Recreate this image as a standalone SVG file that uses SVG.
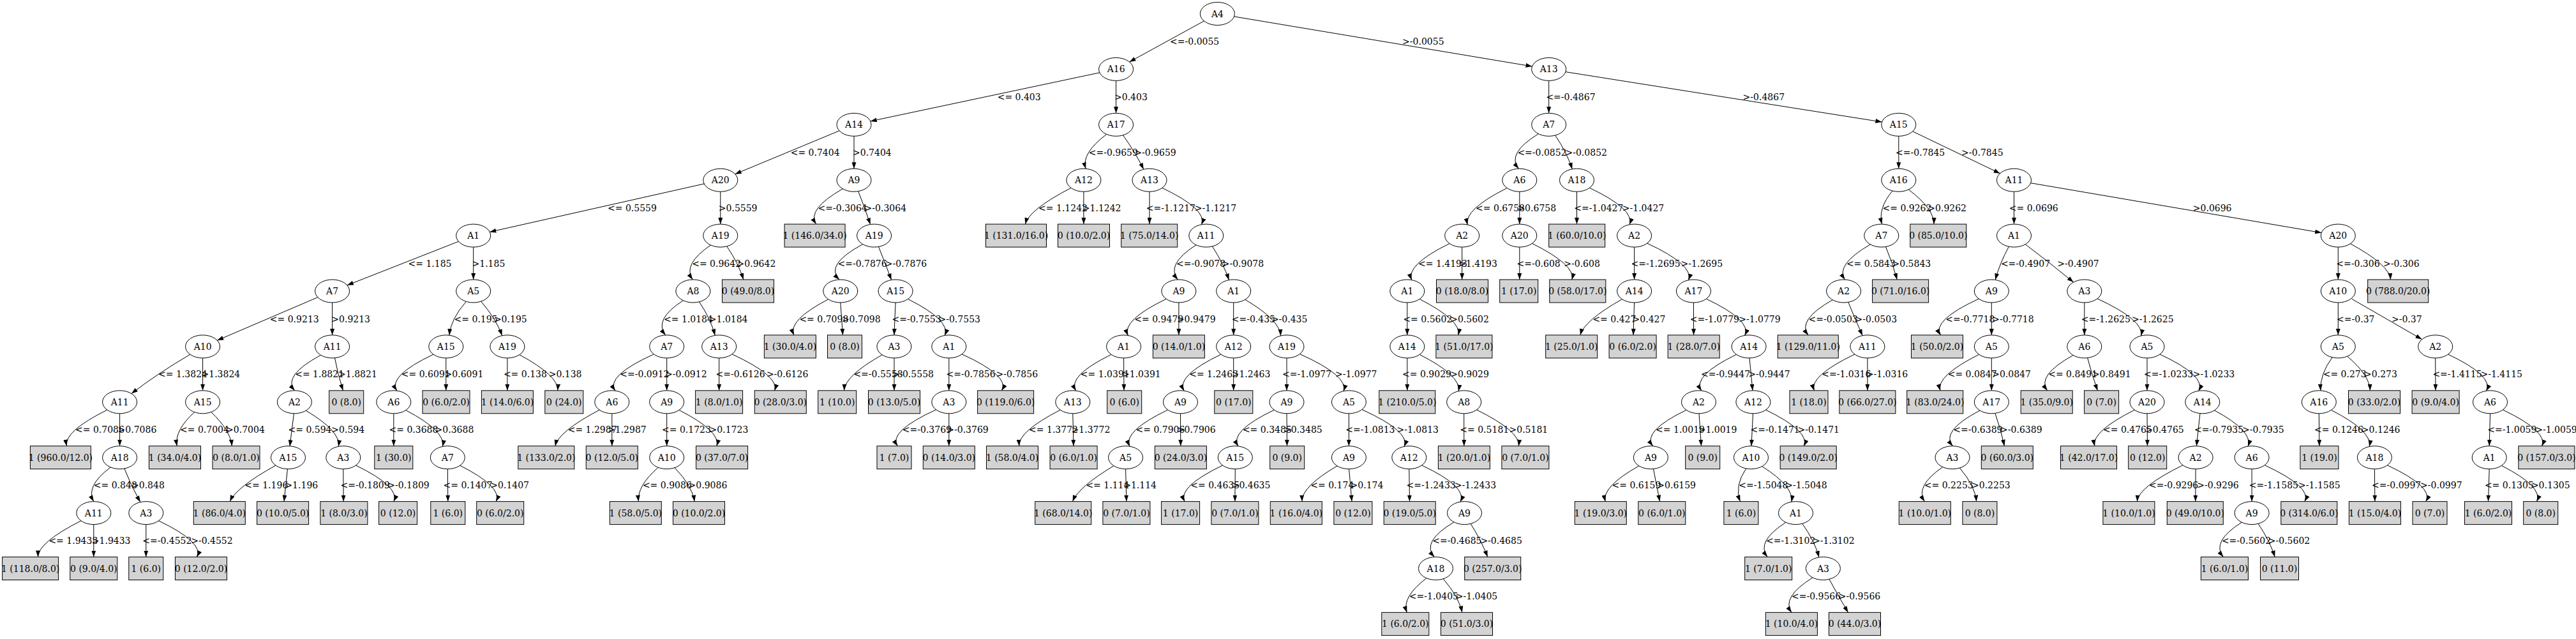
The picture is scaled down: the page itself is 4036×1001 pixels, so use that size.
<svg xmlns="http://www.w3.org/2000/svg" width="4036" height="1001" viewBox="0 0 4036 1001">
<style>
text{font-family:"DejaVu Serif","Liberation Serif",serif;font-size:14px;fill:#000}
.n ellipse{fill:#fff;stroke:#000;stroke-width:1}
.l rect{fill:#d3d3d3;stroke:#000;stroke-width:1}
.n text,.l text{text-anchor:middle}
#connectors path{fill:none;stroke:#000;stroke-width:1;marker-end:url(#arr)}
#connectors text{text-anchor:start}
</style>
<defs>
<marker id="arr" viewBox="0 0 10 7" refX="10" refY="3.5" markerWidth="10" markerHeight="7" markerUnits="userSpaceOnUse" orient="auto"><path d="M0,0L10,3.5L0,7z" fill="#000" stroke="none"/></marker>
</defs>
<rect x="0" y="0" width="4036" height="1001" fill="#fff"/>
<g id="connectors">
<path d="M1886.5,32.9 L1769.5,97"/><text x="1833.1" y="70">&lt;=-0.0055</text>
<path d="M1933.6,25.9 L2400.5,104"/><text x="2197.1" y="70">&gt;-0.0055</text>
<path d="M1722.9,113.8 L1363.7,189.9"/><text x="1562.7" y="156.9">&lt;= 0.403</text>
<path d="M1748.6,126.4 L1748.6,177.3"/><text x="1746" y="156.9">&gt;0.403</text>
<path d="M1315.1,204.8 L1151.7,272.7"/><text x="1238.7" y="243.8">&lt;= 0.7404</text>
<path d="M1338,213.3 L1338,264.2"/><text x="1336" y="243.8">&gt;0.7404</text>
<path d="M1103.2,287.9 L767.3,363.4"/><text x="952" y="330.7">&lt;= 0.5559</text>
<path d="M1128.8,300.2 L1128.8,351.1"/><text x="1125.8" y="330.7">&gt;0.5559</text>
<path d="M1320.3,295.8 Q1263.7,327.95 1278.7,351.1"/><text x="1281.6" y="330.7">&lt;=-0.3064</text>
<path d="M1344.7,299.6 Q1355.05,325.8 1363.6,351.6"/><text x="1354.6" y="330.7">&gt;-0.3064</text>
<path d="M718.4,378.3 L543.9,446.8"/><text x="639.5" y="417.6">&lt;= 1.185</text>
<path d="M741.7,387.1 L741.7,438"/><text x="739.5" y="417.6">&gt;1.185</text>
<path d="M1113.6,383.9 Q1069,414.25 1085.2,438"/><text x="1084.2" y="417.6">&lt;= 0.9642</text>
<path d="M1138.7,385.8 Q1157.45,413.3 1164.8,438"/><text x="1154.6" y="417.6">&gt;0.9642</text>
<path d="M497.9,465.7 L340.3,533.2"/><text x="422.8" y="504.5">&lt;= 0.9213</text>
<path d="M520.6,474 L520.6,524.9"/><text x="519.3" y="504.5">&gt;0.9213</text>
<path d="M730.4,472.3 Q706,500.1 704,525.3"/><text x="711.6" y="504.5">&lt;= 0.195</text>
<path d="M753.6,472.1 Q777.7,499.95 786.6,525.8"/><text x="773.9" y="504.5">&gt;0.195</text>
<path d="M1070.4,470.7 Q1023.4,501.05 1042.8,525"/><text x="1040" y="504.5">&lt;= 1.0184</text>
<path d="M1095.5,472.8 Q1113.7,499.8 1120.3,525.4"/><text x="1110.8" y="504.5">&gt;1.0184</text>
<path d="M1351.8,382.6 Q1291.6,414.85 1315,438.1"/><text x="1312.5" y="417.6">&lt;=-0.7876</text>
<path d="M1376.5,386.5 Q1387.05,412.7 1396.6,438.5"/><text x="1386.8" y="417.6">&gt;-0.7876</text>
<path d="M1678,294.4 Q1611.95,328.55 1606.5,351.1"/><text x="1627.1" y="330.7">&lt;= 1.1242</text>
<path d="M1697.9,300.2 L1697.9,351.1"/><text x="1695.8" y="330.7">&gt;1.1242</text>
<path d="M1733.8,210.3 Q1693.95,240.2 1701.1,264.3"/><text x="1705.7" y="243.8">&lt;=-0.9659</text>
<path d="M1759.5,211.8 Q1778.95,238.95 1791.8,265.3"/><text x="1777.3" y="243.8">&gt;-0.9659</text>
<path d="M1801,300.2 L1801,351.1"/><text x="1795.8" y="330.7">&lt;=-1.1217</text>
<path d="M1820.9,294.4 Q1891.85,328.2 1882.6,351.8"/><text x="1871.8" y="330.7">&gt;-1.1217</text>
<path d="M1874.1,383.7 Q1826.3,414.25 1845.3,438"/><text x="1843" y="417.6">&lt;=-0.9078</text>
<path d="M1899.4,385.9 Q1916.95,412.8 1925.5,438.7"/><text x="1914.7" y="417.6">&gt;-0.9078</text>
<path d="M1403.1,474 L1400.9,524.9"/><text x="1397.5" y="504.5">&lt;=-0.7553</text>
<path d="M1422.5,468.5 Q1489.6,501.95 1480.3,525.4"/><text x="1470.5" y="504.5">&gt;-0.7553</text>
<path d="M1827.2,468.3 Q1757.35,502 1767.3,525.5"/><text x="1777.3" y="504.5">&lt;= 0.9479</text>
<path d="M1846.9,474 L1846.9,524.9"/><text x="1843.9" y="504.5">&gt;0.9479</text>
<path d="M1932.7,474 L1932.7,524.9"/><text x="1929.7" y="504.5">&lt;=-0.435</text>
<path d="M1950.8,469.3 Q2005.1,501.25 2006.6,526"/><text x="1991.9" y="504.5">&gt;-0.435</text>
<path d="M297.9,555.2 Q244.25,586.8 206,616.6"/><text x="248.1" y="591.4">&lt;= 1.3824</text>
<path d="M317.6,560.9 L317.6,611.8"/><text x="315.5" y="591.4">&gt;1.3824</text>
<path d="M502.6,556.3 Q442.25,588.65 461.7,611.8"/><text x="462.2" y="591.4">&lt;= 1.8821</text>
<path d="M524.5,560.7 Q529.2,586.45 537.5,611.8"/><text x="530.1" y="591.4">&gt;1.8821</text>
<path d="M679,555.2 Q607.25,589.05 621.7,612.1"/><text x="628.8" y="591.4">&lt;= 0.6091</text>
<path d="M698.8,560.9 L698.8,611.8"/><text x="696.6" y="591.4">&gt;0.6091</text>
<path d="M794.9,560.9 L794.9,611.8"/><text x="788.9" y="591.4">&lt;= 0.138</text>
<path d="M813.9,555.7 Q875.55,588.95 873.8,611.8"/><text x="859.7" y="591.4">&gt;0.138</text>
<path d="M1024.5,554.8 Q948.4,589.25 963.9,612.1"/><text x="971.3" y="591.4">&lt;=-0.0912</text>
<path d="M1044.7,560.9 L1044.7,611.8"/><text x="1042.1" y="591.4">&gt;-0.0912</text>
<path d="M1126.7,560.9 L1126.7,611.8"/><text x="1121.5" y="591.4">&lt;=-0.6126</text>
<path d="M1147,554.8 Q1221.45,589.4 1213.7,611.8"/><text x="1200.9" y="591.4">&gt;-0.6126</text>
<path d="M1297.8,468.8 Q1233.95,502.05 1243.9,524.9"/><text x="1252.4" y="504.5">&lt;= 0.7098</text>
<path d="M1316.8,474 L1320.5,524.9"/><text x="1318.9" y="504.5">&gt;0.7098</text>
<path d="M1382.2,555.8 Q1323.6,588.9 1322.6,611.8"/><text x="1337.4" y="591.4">&lt;=-0.5558</text>
<path d="M1401,560.9 L1401,611.8"/><text x="1397.5" y="591.4">&gt;-0.5558</text>
<path d="M1486.8,560.9 L1486.8,611.8"/><text x="1482.5" y="591.4">&lt;=-0.7856</text>
<path d="M1507,554.8 Q1583,589.4 1569.4,611.8"/><text x="1560.6" y="591.4">&gt;-0.7856</text>
<path d="M1741.1,555.4 Q1672.2,588.95 1685.7,612.1"/><text x="1692.8" y="591.4">&lt;= 1.0391</text>
<path d="M1760.6,560.9 L1761,611.8"/><text x="1758" y="591.4">&gt;1.0391</text>
<path d="M1913,555.2 Q1842.35,589 1855.1,612.2"/><text x="1863.2" y="591.4">&lt;= 1.2463</text>
<path d="M1932.7,560.9 L1932.7,611.8"/><text x="1929.7" y="591.4">&gt;1.2463</text>
<path d="M2016,560.9 L2016,611.8"/><text x="2009" y="591.4">&lt;=-1.0977</text>
<path d="M2036.5,554.6 Q2113.25,589.05 2105,612.7"/><text x="2092" y="591.4">&gt;-1.0977</text>
<path d="M2426.7,126.4 L2426.7,177.3"/><text x="2422.4" y="156.9">&lt;=-0.4867</text>
<path d="M2453,112.6 L2948.5,191.1"/><text x="2730.6" y="156.9">&gt;-0.4867</text>
<path d="M2410.4,209.6 Q2359.9,240.6 2379.4,264.2"/><text x="2377.4" y="243.8">&lt;=-0.0852</text>
<path d="M2436.6,212 Q2455.05,239.05 2463.3,264.9"/><text x="2452.5" y="243.8">&gt;-0.0852</text>
<path d="M2361.2,294.6 Q2294.05,328 2299.1,352"/><text x="2312.1" y="330.7">&lt;= 0.6758</text>
<path d="M2380.8,300.2 L2380.8,351.1"/><text x="2377.4" y="330.7">&gt;0.6758</text>
<path d="M2470.5,300.2 L2470.5,351.1"/><text x="2466.2" y="330.7">&lt;=-1.0427</text>
<path d="M2490.4,294.3 Q2561.85,328.25 2553.1,351.8"/><text x="2541.8" y="330.7">&gt;-1.0427</text>
<path d="M2271.1,381.5 Q2202.6,415.05 2211.7,438.6"/><text x="2222" y="417.6">&lt;= 1.4193</text>
<path d="M2290.7,387.1 L2290.7,438"/><text x="2285.1" y="417.6">&gt;1.4193</text>
<path d="M2380.8,387.1 L2380.8,438"/><text x="2376.5" y="417.6">&lt;=-0.608</text>
<path d="M2400.5,381.4 Q2468.9,415.4 2462.9,438"/><text x="2450.3" y="417.6">&gt;-0.608</text>
<path d="M2560.6,387.1 L2560.6,438"/><text x="2555.5" y="417.6">&lt;=-1.2695</text>
<path d="M2580.7,381.1 Q2654.05,415.15 2645.6,438.8"/><text x="2633.6" y="417.6">&gt;-1.2695</text>
<path d="M2974.8,213.3 L2974.8,264.2"/><text x="2970.1" y="243.8">&lt;=-0.7845</text>
<path d="M2996.7,205.8 L3133.6,271.7"/><text x="3073.1" y="243.8">&gt;-0.7845</text>
<path d="M2965,299 Q2942.25,326.25 2948.5,351.1"/><text x="2949.5" y="330.7">&lt;= 0.9262</text>
<path d="M2990.2,296.9 Q3030.5,327.3 3030,351.1"/><text x="3020.3" y="330.7">&gt;0.9262</text>
<path d="M3155.5,300.2 L3155.5,351.1"/><text x="3147.8" y="330.7">&lt;= 0.0696</text>
<path d="M3181.7,286.7 L3637.1,364.6"/><text x="3435.8" y="330.7">&gt;0.0696</text>
<path d="M2930.4,382.9 Q2875.4,414.65 2890.4,438"/><text x="2892.9" y="417.6">&lt;= 0.5843</text>
<path d="M2954.5,386.5 Q2965.65,412.85 2972.2,438"/><text x="2964.5" y="417.6">&gt;0.5843</text>
<path d="M3147.4,386.2 Q3133,412.8 3126.2,438.4"/><text x="3134.9" y="417.6">&lt;=-0.4907</text>
<path d="M3173.2,382.7 Q3213.1,412.7 3248.6,442.1"/><text x="3223.3" y="417.6">&gt;-0.4907</text>
<path d="M3663.3,387.1 L3663.3,438"/><text x="3660.3" y="417.6">&lt;=-0.306</text>
<path d="M3682.5,381.8 Q3744,415.2 3745.5,438"/><text x="3734.1" y="417.6">&gt;-0.306</text>
<path d="M2204.8,474 L2204.8,524.9"/><text x="2198.4" y="504.5">&lt;= 0.5602</text>
<path d="M2224.2,468.5 Q2289.85,502.2 2284.9,524.9"/><text x="2272.2" y="504.5">&gt;0.5602</text>
<path d="M2541.5,468.7 Q2482.1,502.1 2475.9,524.9"/><text x="2495.4" y="504.5">&lt;= 0.427</text>
<path d="M2560.6,474 L2559,524.9"/><text x="2557.6" y="504.5">&gt;0.427</text>
<path d="M2653.4,474 L2653.6,524.9"/><text x="2647.8" y="504.5">&lt;=-1.0779</text>
<path d="M2673.3,468.2 Q2744.9,502.1 2733.7,525.4"/><text x="2724.2" y="504.5">&gt;-1.0779</text>
<path d="M2871.2,469.8 Q2815.05,501.55 2833.1,524.9"/><text x="2833.6" y="504.5">&lt;=-0.0503</text>
<path d="M2895.8,473.3 Q2906.2,499.4 2918.2,525.7"/><text x="2906.6" y="504.5">&gt;-0.0503</text>
<path d="M3100.3,468.1 Q3026,502.4 3040.5,524.9"/><text x="3048.2" y="504.5">&lt;=-0.7718</text>
<path d="M3120.3,474 L3120.3,524.9"/><text x="3121.2" y="504.5">&gt;-0.7718</text>
<path d="M3265.8,474 L3265.8,524.9"/><text x="3260.7" y="504.5">&lt;=-1.2625</text>
<path d="M3286.1,467.9 Q3359.8,501.95 3354.7,526"/><text x="3340.1" y="504.5">&gt;-1.2625</text>
<path d="M3663.3,474 L3663.3,524.9"/><text x="3661.1" y="504.5">&lt;=-0.37</text>
<path d="M3684.8,468.3 L3794.5,531.5"/><text x="3747" y="504.5">&gt;-0.37</text>
<path d="M2204.8,560.9 L2204.8,611.8"/><text x="2197.1" y="591.4">&lt;= 0.9029</text>
<path d="M2224.2,555.4 Q2289.7,588.65 2285.2,612.7"/><text x="2272.2" y="591.4">&gt;0.9029</text>
<path d="M2720.6,555.3 Q2650.8,589 2665.8,612.1"/><text x="2665" y="591.4">&lt;=-0.9447</text>
<path d="M2741,560.9 L2746,611.8"/><text x="2739.2" y="591.4">&gt;-0.9447</text>
<path d="M2905.9,555 Q2834.25,589.3 2842.4,611.8"/><text x="2854.2" y="591.4">&lt;=-1.0316</text>
<path d="M2925.9,560.9 L2925.9,611.8"/><text x="2923.8" y="591.4">&gt;-1.0316</text>
<path d="M3100.7,555.3 Q3033.05,589.15 3040,611.8"/><text x="3051.7" y="591.4">&lt;= 0.0847</text>
<path d="M3120.3,560.9 L3120.3,611.8"/><text x="3121.2" y="591.4">&gt;0.0847</text>
<path d="M3248.1,556.5 Q3190.5,588.55 3207.7,611.8"/><text x="3209.2" y="591.4">&lt;= 0.8491</text>
<path d="M3270.7,560.6 Q3277.2,586.5 3286.5,611.8"/><text x="3277.9" y="591.4">&gt;0.8491</text>
<path d="M3364,560.9 L3364,611.8"/><text x="3359" y="591.4">&lt;=-1.0233</text>
<path d="M3384,555 Q3457.2,589.05 3444.8,612.3"/><text x="3435.8" y="591.4">&gt;-1.0233</text>
<path d="M3654.1,559.8 Q3634.4,586.85 3635.9,611.9"/><text x="3639.7" y="591.4">&lt;= 0.273</text>
<path d="M3677.6,558.1 Q3712.7,587.75 3713.4,611.8"/><text x="3704.1" y="591.4">&gt;0.273</text>
<path d="M3815.7,560.9 L3816,611.8"/><text x="3811.4" y="591.4">&lt;=-1.4115</text>
<path d="M3835.6,555.1 Q3907.45,589 3895.5,612.3"/><text x="3886.5" y="591.4">&gt;-1.4115</text>
<path d="M167.9,642.1 Q99.8,676.1 104.5,698.7"/><text x="118" y="678.3">&lt;= 0.7086</text>
<path d="M187.6,647.8 L187.6,698.7"/><text x="184.6" y="678.3">&gt;0.7086</text>
<path d="M304.7,645.6 Q273,674.35 277.3,698.7"/><text x="282" y="678.3">&lt;= 0.7004</text>
<path d="M330.8,645.5 Q361.1,674.4 363.4,698.7"/><text x="354.1" y="678.3">&gt;0.7004</text>
<path d="M460.5,647.8 L454,699.2"/><text x="451.5" y="678.3">&lt;= 0.594</text>
<path d="M479.3,643.3 Q533.75,675.15 530.4,699.4"/><text x="519.3" y="678.3">&gt;0.594</text>
<path d="M616.8,647.8 L616.8,698.7"/><text x="609.5" y="678.3">&lt;= 0.3688</text>
<path d="M635.8,642.6 Q698.55,675.45 693.5,699.5"/><text x="681.6" y="678.3">&gt;0.3688</text>
<path d="M939.1,642.2 Q874.95,676.05 869.8,698.7"/><text x="889.7" y="678.3">&lt;= 1.2987</text>
<path d="M958.8,647.8 L958.8,698.7"/><text x="952" y="678.3">&gt;1.2987</text>
<path d="M1044.7,647.8 L1044.7,698.7"/><text x="1037" y="678.3">&lt;= 0.1723</text>
<path d="M1064,642.4 Q1129.7,675.95 1123,698.7"/><text x="1111.6" y="678.3">&gt;0.1723</text>
<path d="M1466.7,641.8 Q1391.1,676.25 1406.3,698.7"/><text x="1413.8" y="678.3">&lt;=-0.3769</text>
<path d="M1486.8,647.8 L1486.8,698.7"/><text x="1483.3" y="678.3">&gt;-0.3769</text>
<path d="M1661.2,642.2 Q1595.2,676.05 1596.8,698.7"/><text x="1612.1" y="678.3">&lt;= 1.3772</text>
<path d="M1680.8,647.8 L1682,698.7"/><text x="1678.6" y="678.3">&gt;1.3772</text>
<path d="M1829.7,642.1 Q1759.15,675.85 1770,699.2"/><text x="1779.5" y="678.3">&lt;= 0.7906</text>
<path d="M1849.5,647.8 L1849.8,698.7"/><text x="1843.9" y="678.3">&gt;0.7906</text>
<path d="M1996.3,642.2 Q1925.65,675.9 1940,699"/><text x="1946.9" y="678.3">&lt;= 0.3485</text>
<path d="M2016,647.8 L2016.5,698.7"/><text x="2011" y="678.3">&gt;0.3485</text>
<path d="M2113.4,647.8 L2113.4,698.7"/><text x="2108.3" y="678.3">&lt;=-1.0813</text>
<path d="M2133.8,641.6 Q2210.05,676 2200.1,699.4"/><text x="2188.5" y="678.3">&gt;-1.0813</text>
<path d="M2293.7,647.8 L2293.8,698.7"/><text x="2287.3" y="678.3">&lt;= 0.5181</text>
<path d="M2313.6,642 Q2382.5,676.15 2379.4,698.7"/><text x="2364.5" y="678.3">&gt;0.5181</text>
<path d="M2642.1,642.3 Q2572.35,675.95 2589.6,698.8"/><text x="2594.1" y="678.3">&lt;= 1.0019</text>
<path d="M2662,647.8 L2665.5,698.7"/><text x="2660.7" y="678.3">&gt;1.0019</text>
<path d="M2746.5,647.8 L2744,698.7"/><text x="2742.6" y="678.3">&lt;=-0.1471</text>
<path d="M2766.6,642.1 Q2836.55,676.1 2826.3,698.7"/><text x="2816.5" y="678.3">&gt;-0.1471</text>
<path d="M3102,643 Q3039.85,675.65 3059.5,698.7"/><text x="3060.3" y="678.3">&lt;=-0.6389</text>
<path d="M3125.9,647.4 Q3135.05,673.45 3140.4,698.7"/><text x="3134.1" y="678.3">&gt;-0.6389</text>
<path d="M3344.3,642.2 Q3276.95,676.05 3281.8,698.7"/><text x="3295" y="678.3">&lt;= 0.4765</text>
<path d="M3364,647.8 L3364.5,698.7"/><text x="3361" y="678.3">&gt;0.4765</text>
<path d="M3447,647.6 L3441.4,698.8"/><text x="3438" y="678.3">&lt;=-0.7935</text>
<path d="M3469.4,642.8 Q3530.45,675.5 3522.1,699.2"/><text x="3513.1" y="678.3">&gt;-0.7935</text>
<path d="M3633.3,647.8 L3633.9,698.7"/><text x="3626" y="678.3">&lt;= 0.1246</text>
<path d="M3652.6,642.4 Q3717.15,675.5 3712.3,699.6"/><text x="3699.8" y="678.3">&gt;0.1246</text>
<path d="M3901.5,647.8 L3900.2,698.7"/><text x="3897.2" y="678.3">&lt;=-1.0059</text>
<path d="M3921.4,642 Q3992.6,676.15 3982.6,698.7"/><text x="3972.3" y="678.3">&gt;-1.0059</text>
<path d="M173.3,731.9 Q133.55,761.55 146.8,785.6"/><text x="146.8" y="765.2">&lt;= 0.848</text>
<path d="M194.9,734 Q204.6,760 219.9,786.6"/><text x="206" y="765.2">&gt;0.848</text>
<path d="M432,729.1 Q370.5,762.95 360.2,785.6"/><text x="383.3" y="765.2">&lt;= 1.196</text>
<path d="M450.5,734.6 L445,785.6"/><text x="446.4" y="765.2">&gt;1.196</text>
<path d="M537.8,734.7 L538.2,785.6"/><text x="533.5" y="765.2">&lt;=-0.1809</text>
<path d="M557.5,729 Q627.4,763 616.9,785.6"/><text x="607.3" y="765.2">&gt;-0.1809</text>
<path d="M701.3,734.7 L701.8,785.6"/><text x="694.5" y="765.2">&lt;= 0.1407</text>
<path d="M720.6,729.2 Q787.65,762.9 777.3,785.6"/><text x="768.3" y="765.2">&gt;0.1407</text>
<path d="M1031.2,732.3 Q998,761.35 1000.4,785.6"/><text x="1006.9" y="765.2">&lt;= 0.9086</text>
<path d="M1057.1,732.7 Q1084.55,761.15 1088.2,785.6"/><text x="1078.6" y="765.2">&gt;0.9086</text>
<path d="M1745,729.7 Q1690.05,762.65 1680.5,785.6"/><text x="1701.4" y="765.2">&lt;= 1.114</text>
<path d="M1763.6,734.7 L1764.9,785.6"/><text x="1760.2" y="765.2">&gt;1.114</text>
<path d="M1915.5,729 Q1844.8,763 1856.1,785.6"/><text x="1865.3" y="765.2">&lt;= 0.4635</text>
<path d="M1935.3,734.7 L1934.9,785.6"/><text x="1929.7" y="765.2">&gt;0.4635</text>
<path d="M2095.1,729.9 Q2039,762.55 2040.1,785.6"/><text x="2053.3" y="765.2">&lt;= 0.174</text>
<path d="M2113.6,734.7 L2118,785.6"/><text x="2115.6" y="765.2">&gt;0.174</text>
<path d="M2207.8,734.7 L2208.5,785.6"/><text x="2203.6" y="765.2">&lt;=-1.2433</text>
<path d="M2227.7,728.9 Q2299.5,762.8 2288.1,786.1"/><text x="2278.7" y="765.2">&gt;-1.2433</text>
<path d="M2568,729.8 Q2509.45,762.6 2515.1,785.6"/><text x="2525.5" y="765.2">&lt;= 0.6159</text>
<path d="M2590.5,734.6 L2600.5,785.6"/><text x="2596.3" y="765.2">&gt;0.6159</text>
<path d="M2735.8,733.9 Q2717.3,760.55 2726.4,785.6"/><text x="2724.2" y="765.2">&lt;=-1.5048</text>
<path d="M2760.7,730.6 Q2810.55,761.95 2807,786.1"/><text x="2797.2" y="765.2">&gt;-1.5048</text>
<path d="M3043.8,731.6 Q3000,761.7 3015.4,785.6"/><text x="3014.8" y="765.2">&lt;= 0.2253</text>
<path d="M3070.3,733 Q3094.55,761 3096.6,785.6"/><text x="3089" y="765.2">&gt;0.2253</text>
<path d="M3420,728.7 Q3349.95,763.15 3348.5,785.6"/><text x="3367.1" y="765.2">&lt;=-0.9296</text>
<path d="M3440.1,734.7 L3439.8,785.6"/><text x="3442.3" y="765.2">&gt;-0.9296</text>
<path d="M3528.1,734.7 L3528.1,785.6"/><text x="3523.8" y="765.2">&lt;=-1.1585</text>
<path d="M3548.2,728.7 Q3622.65,763.15 3610.9,785.6"/><text x="3601.1" y="765.2">&gt;-1.1585</text>
<path d="M3720.4,734.7 L3720.9,785.6"/><text x="3716.1" y="765.2">&lt;=-0.0997</text>
<path d="M3740.4,728.8 Q3813.6,763.1 3800.8,785.6"/><text x="3792.1" y="765.2">&gt;-0.0997</text>
<path d="M3900.2,734.7 L3898.5,785.6"/><text x="3892.9" y="765.2">&lt;= 0.1305</text>
<path d="M3919.4,729.4 Q3984.8,762.8 3974.6,785.6"/><text x="3965.9" y="765.2">&gt;0.1305</text>
<path d="M127,815.8 Q59.55,849.95 59.5,872.5"/><text x="76.4" y="852.1">&lt;= 1.9433</text>
<path d="M146.8,821.6 L146.8,872.5"/><text x="143.8" y="852.1">&gt;1.9433</text>
<path d="M228.8,821.6 L228.8,872.5"/><text x="223.2" y="852.1">&lt;=-0.4552</text>
<path d="M248.6,815.8 Q319.85,849.95 308.5,872.5"/><text x="299.2" y="852.1">&gt;-0.4552</text>
<path d="M2278,817.9 Q2225.9,848.85 2247.4,872.6"/><text x="2244.3" y="852.1">&lt;=-0.4685</text>
<path d="M2304.1,820.4 Q2321.4,847.65 2330.7,872.5"/><text x="2319.4" y="852.1">&gt;-0.4685</text>
<path d="M2797.9,818.3 Q2750.65,848.7 2769.2,872.5"/><text x="2767.1" y="852.1">&lt;=-1.3102</text>
<path d="M2823.7,820.2 Q2843.4,847.5 2849.9,873"/><text x="2840.1" y="852.1">&gt;-1.3102</text>
<path d="M3512.3,818.2 Q3463.9,848.75 3483.5,872.5"/><text x="3480.9" y="852.1">&lt;=-0.5602</text>
<path d="M3538,820.3 Q3556.5,847.7 3564.2,872.5"/><text x="3553.8" y="852.1">&gt;-0.5602</text>
<path d="M2235,905.7 Q2195.95,935.35 2204.3,959.4"/><text x="2207.8" y="939">&lt;=-1.0405</text>
<path d="M2261.2,906.7 Q2285.55,934.85 2290.9,959.4"/><text x="2280.8" y="939">&gt;-1.0405</text>
<path d="M2840.1,904.8 Q2790.45,935.8 2807,959.4"/><text x="2807" y="939">&lt;=-0.9566</text>
<path d="M2865.9,907.3 Q2880.85,934.55 2895.6,959.4"/><text x="2880.8" y="939">&gt;-0.9566</text>
</g>
<g id="nodes">
<g id="A4-1907" class="n"><ellipse cx="1907.4" cy="21.5" rx="27" ry="18"/><text x="1907.4" y="26.5">A4</text></g>
<g id="A16-1749" class="n"><ellipse cx="1748.6" cy="108.4" rx="27" ry="18"/><text x="1748.6" y="113.4">A16</text></g>
<g id="A13-2427" class="n"><ellipse cx="2426.7" cy="108.4" rx="27" ry="18"/><text x="2426.7" y="113.4">A13</text></g>
<g id="A14-1338" class="n"><ellipse cx="1338" cy="195.3" rx="27" ry="18"/><text x="1338" y="200.3">A14</text></g>
<g id="A17-1749" class="n"><ellipse cx="1748.6" cy="195.3" rx="27" ry="18"/><text x="1748.6" y="200.3">A17</text></g>
<g id="A7-2427" class="n"><ellipse cx="2426.7" cy="195.3" rx="27" ry="18"/><text x="2426.7" y="200.3">A7</text></g>
<g id="A15-2975" class="n"><ellipse cx="2974.8" cy="195.3" rx="27" ry="18"/><text x="2974.8" y="200.3">A15</text></g>
<g id="A20-1129" class="n"><ellipse cx="1128.8" cy="282.2" rx="27" ry="18"/><text x="1128.8" y="287.2">A20</text></g>
<g id="A9-1338" class="n"><ellipse cx="1338" cy="282.2" rx="27" ry="18"/><text x="1338" y="287.2">A9</text></g>
<g id="A12-1698" class="n"><ellipse cx="1697.9" cy="282.2" rx="27" ry="18"/><text x="1697.9" y="287.2">A12</text></g>
<g id="A13-1801" class="n"><ellipse cx="1801" cy="282.2" rx="27" ry="18"/><text x="1801" y="287.2">A13</text></g>
<g id="A6-2381" class="n"><ellipse cx="2380.8" cy="282.2" rx="27" ry="18"/><text x="2380.8" y="287.2">A6</text></g>
<g id="A18-2471" class="n"><ellipse cx="2470.5" cy="282.2" rx="27" ry="18"/><text x="2470.5" y="287.2">A18</text></g>
<g id="A16-2975" class="n"><ellipse cx="2974.8" cy="282.2" rx="27" ry="18"/><text x="2974.8" y="287.2">A16</text></g>
<g id="A11-3156" class="n"><ellipse cx="3155.5" cy="282.2" rx="27" ry="18"/><text x="3155.5" y="287.2">A11</text></g>
<g id="A1-742" class="n"><ellipse cx="741.7" cy="369.1" rx="27" ry="18"/><text x="741.7" y="374.1">A1</text></g>
<g id="A19-1129" class="n"><ellipse cx="1128.8" cy="369.1" rx="27" ry="18"/><text x="1128.8" y="374.1">A19</text></g>
<g id="A19-1370" class="n"><ellipse cx="1369.6" cy="369.1" rx="27" ry="18"/><text x="1369.6" y="374.1">A19</text></g>
<g id="A11-1890" class="n"><ellipse cx="1889.8" cy="369.1" rx="27" ry="18"/><text x="1889.8" y="374.1">A11</text></g>
<g id="A2-2291" class="n"><ellipse cx="2290.7" cy="369.1" rx="27" ry="18"/><text x="2290.7" y="374.1">A2</text></g>
<g id="A20-2381" class="n"><ellipse cx="2380.8" cy="369.1" rx="27" ry="18"/><text x="2380.8" y="374.1">A20</text></g>
<g id="A2-2561" class="n"><ellipse cx="2560.6" cy="369.1" rx="27" ry="18"/><text x="2560.6" y="374.1">A2</text></g>
<g id="A7-2948" class="n"><ellipse cx="2947.8" cy="369.1" rx="27" ry="18"/><text x="2947.8" y="374.1">A7</text></g>
<g id="A1-3156" class="n"><ellipse cx="3155.5" cy="369.1" rx="27" ry="18"/><text x="3155.5" y="374.1">A1</text></g>
<g id="A20-3663" class="n"><ellipse cx="3663.3" cy="369.1" rx="27" ry="18"/><text x="3663.3" y="374.1">A20</text></g>
<g id="A7-521" class="n"><ellipse cx="520.6" cy="456" rx="27" ry="18"/><text x="520.6" y="461">A7</text></g>
<g id="A5-742" class="n"><ellipse cx="741.7" cy="456" rx="27" ry="18"/><text x="741.7" y="461">A5</text></g>
<g id="A8-1086" class="n"><ellipse cx="1085.9" cy="456" rx="27" ry="18"/><text x="1085.9" y="461">A8</text></g>
<g id="A20-1317" class="n"><ellipse cx="1316.8" cy="456" rx="27" ry="18"/><text x="1316.8" y="461">A20</text></g>
<g id="A15-1403" class="n"><ellipse cx="1403.1" cy="456" rx="27" ry="18"/><text x="1403.1" y="461">A15</text></g>
<g id="A9-1847" class="n"><ellipse cx="1846.9" cy="456" rx="27" ry="18"/><text x="1846.9" y="461">A9</text></g>
<g id="A1-1933" class="n"><ellipse cx="1932.7" cy="456" rx="27" ry="18"/><text x="1932.7" y="461">A1</text></g>
<g id="A1-2205" class="n"><ellipse cx="2204.8" cy="456" rx="27" ry="18"/><text x="2204.8" y="461">A1</text></g>
<g id="A14-2561" class="n"><ellipse cx="2560.6" cy="456" rx="27" ry="18"/><text x="2560.6" y="461">A14</text></g>
<g id="A17-2653" class="n"><ellipse cx="2653.4" cy="456" rx="27" ry="18"/><text x="2653.4" y="461">A17</text></g>
<g id="A2-2889" class="n"><ellipse cx="2888.6" cy="456" rx="27" ry="18"/><text x="2888.6" y="461">A2</text></g>
<g id="A9-3120" class="n"><ellipse cx="3120.3" cy="456" rx="27" ry="18"/><text x="3120.3" y="461">A9</text></g>
<g id="A3-3266" class="n"><ellipse cx="3265.8" cy="456" rx="27" ry="18"/><text x="3265.8" y="461">A3</text></g>
<g id="A10-3663" class="n"><ellipse cx="3663.3" cy="456" rx="27" ry="18"/><text x="3663.3" y="461">A10</text></g>
<g id="A10-318" class="n"><ellipse cx="317.6" cy="542.9" rx="27" ry="18"/><text x="317.6" y="547.9">A10</text></g>
<g id="A11-521" class="n"><ellipse cx="520.6" cy="542.9" rx="27" ry="18"/><text x="520.6" y="547.9">A11</text></g>
<g id="A15-699" class="n"><ellipse cx="698.8" cy="542.9" rx="27" ry="18"/><text x="698.8" y="547.9">A15</text></g>
<g id="A19-795" class="n"><ellipse cx="794.9" cy="542.9" rx="27" ry="18"/><text x="794.9" y="547.9">A19</text></g>
<g id="A7-1045" class="n"><ellipse cx="1044.7" cy="542.9" rx="27" ry="18"/><text x="1044.7" y="547.9">A7</text></g>
<g id="A13-1127" class="n"><ellipse cx="1126.7" cy="542.9" rx="27" ry="18"/><text x="1126.7" y="547.9">A13</text></g>
<g id="A3-1401" class="n"><ellipse cx="1400.9" cy="542.9" rx="27" ry="18"/><text x="1400.9" y="547.9">A3</text></g>
<g id="A1-1487" class="n"><ellipse cx="1486.8" cy="542.9" rx="27" ry="18"/><text x="1486.8" y="547.9">A1</text></g>
<g id="A1-1761" class="n"><ellipse cx="1760.6" cy="542.9" rx="27" ry="18"/><text x="1760.6" y="547.9">A1</text></g>
<g id="A12-1933" class="n"><ellipse cx="1932.7" cy="542.9" rx="27" ry="18"/><text x="1932.7" y="547.9">A12</text></g>
<g id="A19-2016" class="n"><ellipse cx="2016" cy="542.9" rx="27" ry="18"/><text x="2016" y="547.9">A19</text></g>
<g id="A14-2205" class="n"><ellipse cx="2204.8" cy="542.9" rx="27" ry="18"/><text x="2204.8" y="547.9">A14</text></g>
<g id="A14-2740" class="n"><ellipse cx="2740.1" cy="542.9" rx="27" ry="18"/><text x="2740.1" y="547.9">A14</text></g>
<g id="A11-2926" class="n"><ellipse cx="2925.9" cy="542.9" rx="27" ry="18"/><text x="2925.9" y="547.9">A11</text></g>
<g id="A5-3120" class="n"><ellipse cx="3120.3" cy="542.9" rx="27" ry="18"/><text x="3120.3" y="547.9">A5</text></g>
<g id="A6-3266" class="n"><ellipse cx="3265.8" cy="542.9" rx="27" ry="18"/><text x="3265.8" y="547.9">A6</text></g>
<g id="A5-3364" class="n"><ellipse cx="3364" cy="542.9" rx="27" ry="18"/><text x="3364" y="547.9">A5</text></g>
<g id="A5-3663" class="n"><ellipse cx="3663.3" cy="542.9" rx="27" ry="18"/><text x="3663.3" y="547.9">A5</text></g>
<g id="A2-3816" class="n"><ellipse cx="3815.7" cy="542.9" rx="27" ry="18"/><text x="3815.7" y="547.9">A2</text></g>
<g id="A11-188" class="n"><ellipse cx="187.6" cy="629.8" rx="27" ry="18"/><text x="187.6" y="634.8">A11</text></g>
<g id="A15-318" class="n"><ellipse cx="317.6" cy="629.8" rx="27" ry="18"/><text x="317.6" y="634.8">A15</text></g>
<g id="A2-461" class="n"><ellipse cx="461.4" cy="629.8" rx="27" ry="18"/><text x="461.4" y="634.8">A2</text></g>
<g id="A6-617" class="n"><ellipse cx="616.8" cy="629.8" rx="27" ry="18"/><text x="616.8" y="634.8">A6</text></g>
<g id="A6-959" class="n"><ellipse cx="958.8" cy="629.8" rx="27" ry="18"/><text x="958.8" y="634.8">A6</text></g>
<g id="A9-1045" class="n"><ellipse cx="1044.7" cy="629.8" rx="27" ry="18"/><text x="1044.7" y="634.8">A9</text></g>
<g id="A3-1487" class="n"><ellipse cx="1486.8" cy="629.8" rx="27" ry="18"/><text x="1486.8" y="634.8">A3</text></g>
<g id="A13-1681" class="n"><ellipse cx="1680.8" cy="629.8" rx="27" ry="18"/><text x="1680.8" y="634.8">A13</text></g>
<g id="A9-1850" class="n"><ellipse cx="1849.5" cy="629.8" rx="27" ry="18"/><text x="1849.5" y="634.8">A9</text></g>
<g id="A9-2016" class="n"><ellipse cx="2016" cy="629.8" rx="27" ry="18"/><text x="2016" y="634.8">A9</text></g>
<g id="A5-2113" class="n"><ellipse cx="2113.4" cy="629.8" rx="27" ry="18"/><text x="2113.4" y="634.8">A5</text></g>
<g id="A8-2294" class="n"><ellipse cx="2293.7" cy="629.8" rx="27" ry="18"/><text x="2293.7" y="634.8">A8</text></g>
<g id="A2-2662" class="n"><ellipse cx="2661.5" cy="629.8" rx="27" ry="18"/><text x="2661.5" y="634.8">A2</text></g>
<g id="A12-2747" class="n"><ellipse cx="2746.9" cy="629.8" rx="27" ry="18"/><text x="2746.9" y="634.8">A12</text></g>
<g id="A17-3120" class="n"><ellipse cx="3120.3" cy="629.8" rx="27" ry="18"/><text x="3120.3" y="634.8">A17</text></g>
<g id="A20-3364" class="n"><ellipse cx="3364" cy="629.8" rx="27" ry="18"/><text x="3364" y="634.8">A20</text></g>
<g id="A14-3451" class="n"><ellipse cx="3450.8" cy="629.8" rx="27" ry="18"/><text x="3450.8" y="634.8">A14</text></g>
<g id="A16-3633" class="n"><ellipse cx="3633.3" cy="629.8" rx="27" ry="18"/><text x="3633.3" y="634.8">A16</text></g>
<g id="A6-3902" class="n"><ellipse cx="3901.5" cy="629.8" rx="27" ry="18"/><text x="3901.5" y="634.8">A6</text></g>
<g id="A18-188" class="n"><ellipse cx="187.6" cy="716.7" rx="27" ry="18"/><text x="187.6" y="721.7">A18</text></g>
<g id="A15-452" class="n"><ellipse cx="451.5" cy="716.7" rx="27" ry="18"/><text x="451.5" y="721.7">A15</text></g>
<g id="A3-538" class="n"><ellipse cx="537.8" cy="716.7" rx="27" ry="18"/><text x="537.8" y="721.7">A3</text></g>
<g id="A7-701" class="n"><ellipse cx="701.3" cy="716.7" rx="27" ry="18"/><text x="701.3" y="721.7">A7</text></g>
<g id="A10-1045" class="n"><ellipse cx="1044.7" cy="716.7" rx="27" ry="18"/><text x="1044.7" y="721.7">A10</text></g>
<g id="A5-1764" class="n"><ellipse cx="1763.6" cy="716.7" rx="27" ry="18"/><text x="1763.6" y="721.7">A5</text></g>
<g id="A15-1935" class="n"><ellipse cx="1935.3" cy="716.7" rx="27" ry="18"/><text x="1935.3" y="721.7">A15</text></g>
<g id="A9-2113" class="n"><ellipse cx="2113.4" cy="716.7" rx="27" ry="18"/><text x="2113.4" y="721.7">A9</text></g>
<g id="A12-2208" class="n"><ellipse cx="2207.8" cy="716.7" rx="27" ry="18"/><text x="2207.8" y="721.7">A12</text></g>
<g id="A9-2586" class="n"><ellipse cx="2586.4" cy="716.7" rx="27" ry="18"/><text x="2586.4" y="721.7">A9</text></g>
<g id="A10-2744" class="n"><ellipse cx="2743.5" cy="716.7" rx="27" ry="18"/><text x="2743.5" y="721.7">A10</text></g>
<g id="A3-3059" class="n"><ellipse cx="3059" cy="716.7" rx="27" ry="18"/><text x="3059" y="721.7">A3</text></g>
<g id="A2-3440" class="n"><ellipse cx="3440.1" cy="716.7" rx="27" ry="18"/><text x="3440.1" y="721.7">A2</text></g>
<g id="A6-3528" class="n"><ellipse cx="3528.1" cy="716.7" rx="27" ry="18"/><text x="3528.1" y="721.7">A6</text></g>
<g id="A18-3720" class="n"><ellipse cx="3720.4" cy="716.7" rx="27" ry="18"/><text x="3720.4" y="721.7">A18</text></g>
<g id="A1-3900" class="n"><ellipse cx="3900.2" cy="716.7" rx="27" ry="18"/><text x="3900.2" y="721.7">A1</text></g>
<g id="A11-147" class="n"><ellipse cx="146.8" cy="803.6" rx="27" ry="18"/><text x="146.8" y="808.6">A11</text></g>
<g id="A3-229" class="n"><ellipse cx="228.8" cy="803.6" rx="27" ry="18"/><text x="228.8" y="808.6">A3</text></g>
<g id="A9-2295" class="n"><ellipse cx="2294.5" cy="803.6" rx="27" ry="18"/><text x="2294.5" y="808.6">A9</text></g>
<g id="A1-2814" class="n"><ellipse cx="2813.5" cy="803.6" rx="27" ry="18"/><text x="2813.5" y="808.6">A1</text></g>
<g id="A9-3528" class="n"><ellipse cx="3528.1" cy="803.6" rx="27" ry="18"/><text x="3528.1" y="808.6">A9</text></g>
<g id="A18-2250" class="n"><ellipse cx="2249.5" cy="890.5" rx="27" ry="18"/><text x="2249.5" y="895.5">A18</text></g>
<g id="A3-2856" class="n"><ellipse cx="2856.4" cy="890.5" rx="27" ry="18"/><text x="2856.4" y="895.5">A3</text></g>
</g>
<g id="leaves">
<g id="leaf-1277-4" class="l"><rect x="1229.1" y="351.1" width="95" height="36"/><text x="1276.6" y="374.1">1 (146.0/34.0)</text></g>
<g id="leaf-1592-4" class="l"><rect x="1544.5" y="351.1" width="95" height="36"/><text x="1592" y="374.1">1 (131.0/16.0)</text></g>
<g id="leaf-1698-4" class="l"><rect x="1657.5" y="351.1" width="81" height="36"/><text x="1698" y="374.1">0 (10.0/2.0)</text></g>
<g id="leaf-1801-4" class="l"><rect x="1756.7" y="351.1" width="88" height="36"/><text x="1800.7" y="374.1">1 (75.0/14.0)</text></g>
<g id="leaf-2471-4" class="l"><rect x="2426.7" y="351.1" width="88" height="36"/><text x="2470.7" y="374.1">1 (60.0/10.0)</text></g>
<g id="leaf-3037-4" class="l"><rect x="2992.8" y="351.1" width="88" height="36"/><text x="3036.8" y="374.1">0 (85.0/10.0)</text></g>
<g id="leaf-1172-5" class="l"><rect x="1131.5" y="438" width="81" height="36"/><text x="1172" y="461">0 (49.0/8.0)</text></g>
<g id="leaf-2291-5" class="l"><rect x="2250.5" y="438" width="81" height="36"/><text x="2291" y="461">0 (18.0/8.0)</text></g>
<g id="leaf-2380-5" class="l"><rect x="2349.7" y="438" width="60" height="36"/><text x="2379.7" y="461">1 (17.0)</text></g>
<g id="leaf-2472-5" class="l"><rect x="2427.8" y="438" width="88" height="36"/><text x="2471.8" y="461">0 (58.0/17.0)</text></g>
<g id="leaf-2978-5" class="l"><rect x="2933.6" y="438" width="88" height="36"/><text x="2977.6" y="461">0 (71.0/16.0)</text></g>
<g id="leaf-3757-5" class="l"><rect x="3709.7" y="438" width="95" height="36"/><text x="3757.2" y="461">0 (788.0/20.0)</text></g>
<g id="leaf-1238-6" class="l"><rect x="1197.4" y="524.9" width="81" height="36"/><text x="1237.9" y="547.9">1 (30.0/4.0)</text></g>
<g id="leaf-1324-6" class="l"><rect x="1296.5" y="524.9" width="54" height="36"/><text x="1323.5" y="547.9">0 (8.0)</text></g>
<g id="leaf-1847-6" class="l"><rect x="1806.4" y="524.9" width="81" height="36"/><text x="1846.9" y="547.9">0 (14.0/1.0)</text></g>
<g id="leaf-2294-6" class="l"><rect x="2249.9" y="524.9" width="88" height="36"/><text x="2293.9" y="547.9">1 (51.0/17.0)</text></g>
<g id="leaf-2462-6" class="l"><rect x="2421.7" y="524.9" width="81" height="36"/><text x="2462.2" y="547.9">1 (25.0/1.0)</text></g>
<g id="leaf-2558-6" class="l"><rect x="2521.1" y="524.9" width="74" height="36"/><text x="2558.1" y="547.9">0 (6.0/2.0)</text></g>
<g id="leaf-2654-6" class="l"><rect x="2613.2" y="524.9" width="81" height="36"/><text x="2653.7" y="547.9">1 (28.0/7.0)</text></g>
<g id="leaf-2833-6" class="l"><rect x="2785.3" y="524.9" width="95" height="36"/><text x="2832.8" y="547.9">1 (129.0/11.0)</text></g>
<g id="leaf-3035-6" class="l"><rect x="2994.5" y="524.9" width="81" height="36"/><text x="3035" y="547.9">1 (50.0/2.0)</text></g>
<g id="leaf-543-7" class="l"><rect x="515.7" y="611.8" width="54" height="36"/><text x="542.7" y="634.8">0 (8.0)</text></g>
<g id="leaf-699-7" class="l"><rect x="662" y="611.8" width="74" height="36"/><text x="699" y="634.8">0 (6.0/2.0)</text></g>
<g id="leaf-795-7" class="l"><rect x="754.4" y="611.8" width="81" height="36"/><text x="794.9" y="634.8">1 (14.0/6.0)</text></g>
<g id="leaf-884-7" class="l"><rect x="853.8" y="611.8" width="60" height="36"/><text x="883.8" y="634.8">0 (24.0)</text></g>
<g id="leaf-1127-7" class="l"><rect x="1089.6" y="611.8" width="74" height="36"/><text x="1126.6" y="634.8">1 (8.0/1.0)</text></g>
<g id="leaf-1223-7" class="l"><rect x="1182.3" y="611.8" width="81" height="36"/><text x="1222.8" y="634.8">0 (28.0/3.0)</text></g>
<g id="leaf-1312-7" class="l"><rect x="1281.7" y="611.8" width="60" height="36"/><text x="1311.7" y="634.8">1 (10.0)</text></g>
<g id="leaf-1401-7" class="l"><rect x="1360.5" y="611.8" width="81" height="36"/><text x="1401" y="634.8">0 (13.0/5.0)</text></g>
<g id="leaf-1576-7" class="l"><rect x="1531.6" y="611.8" width="88" height="36"/><text x="1575.6" y="634.8">0 (119.0/6.0)</text></g>
<g id="leaf-1762-7" class="l"><rect x="1734.7" y="611.8" width="54" height="36"/><text x="1761.7" y="634.8">0 (6.0)</text></g>
<g id="leaf-1933-7" class="l"><rect x="1902.8" y="611.8" width="60" height="36"/><text x="1932.8" y="634.8">0 (17.0)</text></g>
<g id="leaf-2205-7" class="l"><rect x="2160.8" y="611.8" width="88" height="36"/><text x="2204.8" y="634.8">1 (210.0/5.0)</text></g>
<g id="leaf-2834-7" class="l"><rect x="2804" y="611.8" width="60" height="36"/><text x="2834" y="634.8">1 (18.0)</text></g>
<g id="leaf-2926-7" class="l"><rect x="2881.9" y="611.8" width="88" height="36"/><text x="2925.9" y="634.8">0 (66.0/27.0)</text></g>
<g id="leaf-3032-7" class="l"><rect x="2987.7" y="611.8" width="88" height="36"/><text x="3031.7" y="634.8">1 (83.0/24.0)</text></g>
<g id="leaf-3207-7" class="l"><rect x="3166.2" y="611.8" width="81" height="36"/><text x="3206.7" y="634.8">1 (35.0/9.0)</text></g>
<g id="leaf-3293-7" class="l"><rect x="3265.6" y="611.8" width="54" height="36"/><text x="3292.6" y="634.8">0 (7.0)</text></g>
<g id="leaf-3720-7" class="l"><rect x="3679.5" y="611.8" width="81" height="36"/><text x="3720" y="634.8">0 (33.0/2.0)</text></g>
<g id="leaf-3816-7" class="l"><rect x="3779.1" y="611.8" width="74" height="36"/><text x="3816.1" y="634.8">0 (9.0/4.0)</text></g>
<g id="leaf-95-8" class="l"><rect x="47.4" y="698.7" width="95" height="36"/><text x="94.9" y="721.7">1 (960.0/12.0)</text></g>
<g id="leaf-274-8" class="l"><rect x="233.5" y="698.7" width="81" height="36"/><text x="274" y="721.7">1 (34.0/4.0)</text></g>
<g id="leaf-370-8" class="l"><rect x="333" y="698.7" width="74" height="36"/><text x="370" y="721.7">0 (8.0/1.0)</text></g>
<g id="leaf-617-8" class="l"><rect x="586.8" y="698.7" width="60" height="36"/><text x="616.8" y="721.7">1 (30.0)</text></g>
<g id="leaf-856-8" class="l"><rect x="811.8" y="698.7" width="88" height="36"/><text x="855.8" y="721.7">1 (133.0/2.0)</text></g>
<g id="leaf-959-8" class="l"><rect x="918.3" y="698.7" width="81" height="36"/><text x="958.8" y="721.7">0 (12.0/5.0)</text></g>
<g id="leaf-1131-8" class="l"><rect x="1090.6" y="698.7" width="81" height="36"/><text x="1131.1" y="721.7">0 (37.0/7.0)</text></g>
<g id="leaf-1401-8" class="l"><rect x="1374" y="698.7" width="54" height="36"/><text x="1401" y="721.7">1 (7.0)</text></g>
<g id="leaf-1487-8" class="l"><rect x="1446.3" y="698.7" width="81" height="36"/><text x="1486.8" y="721.7">0 (14.0/3.0)</text></g>
<g id="leaf-1586-8" class="l"><rect x="1545.5" y="698.7" width="81" height="36"/><text x="1586" y="721.7">1 (58.0/4.0)</text></g>
<g id="leaf-1682-8" class="l"><rect x="1645.1" y="698.7" width="74" height="36"/><text x="1682.1" y="721.7">0 (6.0/1.0)</text></g>
<g id="leaf-1850-8" class="l"><rect x="1809.4" y="698.7" width="81" height="36"/><text x="1849.9" y="721.7">0 (24.0/3.0)</text></g>
<g id="leaf-2017-8" class="l"><rect x="1989.7" y="698.7" width="54" height="36"/><text x="2016.7" y="721.7">0 (9.0)</text></g>
<g id="leaf-2294-8" class="l"><rect x="2253.4" y="698.7" width="81" height="36"/><text x="2293.9" y="721.7">1 (20.0/1.0)</text></g>
<g id="leaf-2390-8" class="l"><rect x="2352.9" y="698.7" width="74" height="36"/><text x="2389.9" y="721.7">0 (7.0/1.0)</text></g>
<g id="leaf-2668-8" class="l"><rect x="2640.7" y="698.7" width="54" height="36"/><text x="2667.7" y="721.7">0 (9.0)</text></g>
<g id="leaf-2833-8" class="l"><rect x="2789.2" y="698.7" width="88" height="36"/><text x="2833.2" y="721.7">0 (149.0/2.0)</text></g>
<g id="leaf-3145-8" class="l"><rect x="3104.3" y="698.7" width="81" height="36"/><text x="3144.8" y="721.7">0 (60.0/3.0)</text></g>
<g id="leaf-3273-8" class="l"><rect x="3228.5" y="698.7" width="88" height="36"/><text x="3272.5" y="721.7">1 (42.0/17.0)</text></g>
<g id="leaf-3365-8" class="l"><rect x="3334.7" y="698.7" width="60" height="36"/><text x="3364.7" y="721.7">0 (12.0)</text></g>
<g id="leaf-3634-8" class="l"><rect x="3603.9" y="698.7" width="60" height="36"/><text x="3633.9" y="721.7">1 (19.0)</text></g>
<g id="leaf-3990-8" class="l"><rect x="3945.9" y="698.7" width="88" height="36"/><text x="3989.9" y="721.7">0 (157.0/3.0)</text></g>
<g id="leaf-344-9" class="l"><rect x="303.3" y="785.6" width="81" height="36"/><text x="343.8" y="808.6">1 (86.0/4.0)</text></g>
<g id="leaf-443-9" class="l"><rect x="402.6" y="785.6" width="81" height="36"/><text x="443.1" y="808.6">0 (10.0/5.0)</text></g>
<g id="leaf-539-9" class="l"><rect x="501.9" y="785.6" width="74" height="36"/><text x="538.9" y="808.6">1 (8.0/3.0)</text></g>
<g id="leaf-624-9" class="l"><rect x="593.6" y="785.6" width="60" height="36"/><text x="623.6" y="808.6">0 (12.0)</text></g>
<g id="leaf-702-9" class="l"><rect x="674.8" y="785.6" width="54" height="36"/><text x="701.8" y="808.6">1 (6.0)</text></g>
<g id="leaf-784-9" class="l"><rect x="746.7" y="785.6" width="74" height="36"/><text x="783.7" y="808.6">0 (6.0/2.0)</text></g>
<g id="leaf-996-9" class="l"><rect x="955.3" y="785.6" width="81" height="36"/><text x="995.8" y="808.6">1 (58.0/5.0)</text></g>
<g id="leaf-1095-9" class="l"><rect x="1054.5" y="785.6" width="81" height="36"/><text x="1095" y="808.6">0 (10.0/2.0)</text></g>
<g id="leaf-1666-9" class="l"><rect x="1621.7" y="785.6" width="88" height="36"/><text x="1665.7" y="808.6">1 (68.0/14.0)</text></g>
<g id="leaf-1765-9" class="l"><rect x="1727.9" y="785.6" width="74" height="36"/><text x="1764.9" y="808.6">0 (7.0/1.0)</text></g>
<g id="leaf-1850-9" class="l"><rect x="1819.6" y="785.6" width="60" height="36"/><text x="1849.6" y="808.6">1 (17.0)</text></g>
<g id="leaf-1935-9" class="l"><rect x="1897.9" y="785.6" width="74" height="36"/><text x="1934.9" y="808.6">0 (7.0/1.0)</text></g>
<g id="leaf-2031-9" class="l"><rect x="1990.3" y="785.6" width="81" height="36"/><text x="2030.8" y="808.6">1 (16.0/4.0)</text></g>
<g id="leaf-2120-9" class="l"><rect x="2089.9" y="785.6" width="60" height="36"/><text x="2119.9" y="808.6">0 (12.0)</text></g>
<g id="leaf-2209-9" class="l"><rect x="2168.2" y="785.6" width="81" height="36"/><text x="2208.7" y="808.6">0 (19.0/5.0)</text></g>
<g id="leaf-2508-9" class="l"><rect x="2467.3" y="785.6" width="81" height="36"/><text x="2507.8" y="808.6">1 (19.0/3.0)</text></g>
<g id="leaf-2604-9" class="l"><rect x="2566.8" y="785.6" width="74" height="36"/><text x="2603.8" y="808.6">0 (6.0/1.0)</text></g>
<g id="leaf-2728-9" class="l"><rect x="2700.9" y="785.6" width="54" height="36"/><text x="2727.9" y="808.6">1 (6.0)</text></g>
<g id="leaf-3016-9" class="l"><rect x="2975.3" y="785.6" width="81" height="36"/><text x="3015.8" y="808.6">1 (10.0/1.0)</text></g>
<g id="leaf-3102-9" class="l"><rect x="3074.9" y="785.6" width="54" height="36"/><text x="3101.9" y="808.6">0 (8.0)</text></g>
<g id="leaf-3335-9" class="l"><rect x="3294.9" y="785.6" width="81" height="36"/><text x="3335.4" y="808.6">1 (10.0/1.0)</text></g>
<g id="leaf-3439-9" class="l"><rect x="3395.3" y="785.6" width="88" height="36"/><text x="3439.3" y="808.6">0 (49.0/10.0)</text></g>
<g id="leaf-3618-9" class="l"><rect x="3573.8" y="785.6" width="88" height="36"/><text x="3617.8" y="808.6">0 (314.0/6.0)</text></g>
<g id="leaf-3721-9" class="l"><rect x="3680.4" y="785.6" width="81" height="36"/><text x="3720.9" y="808.6">1 (15.0/4.0)</text></g>
<g id="leaf-3807-9" class="l"><rect x="3780" y="785.6" width="54" height="36"/><text x="3807" y="808.6">0 (7.0)</text></g>
<g id="leaf-3899-9" class="l"><rect x="3861.5" y="785.6" width="74" height="36"/><text x="3898.5" y="808.6">1 (6.0/2.0)</text></g>
<g id="leaf-3981-9" class="l"><rect x="3953.7" y="785.6" width="54" height="36"/><text x="3980.7" y="808.6">0 (8.0)</text></g>
<g id="leaf-48-10" class="l"><rect x="3.6" y="872.5" width="88" height="36"/><text x="47.6" y="895.5">1 (118.0/8.0)</text></g>
<g id="leaf-147-10" class="l"><rect x="109.8" y="872.5" width="74" height="36"/><text x="146.8" y="895.5">0 (9.0/4.0)</text></g>
<g id="leaf-229-10" class="l"><rect x="201.8" y="872.5" width="54" height="36"/><text x="228.8" y="895.5">1 (6.0)</text></g>
<g id="leaf-315-10" class="l"><rect x="274.5" y="872.5" width="81" height="36"/><text x="315" y="895.5">0 (12.0/2.0)</text></g>
<g id="leaf-2339-10" class="l"><rect x="2294.7" y="872.5" width="88" height="36"/><text x="2338.7" y="895.5">0 (257.0/3.0)</text></g>
<g id="leaf-2771-10" class="l"><rect x="2733.7" y="872.5" width="74" height="36"/><text x="2770.7" y="895.5">1 (7.0/1.0)</text></g>
<g id="leaf-3485-10" class="l"><rect x="3448.4" y="872.5" width="74" height="36"/><text x="3485.4" y="895.5">1 (6.0/1.0)</text></g>
<g id="leaf-3572-10" class="l"><rect x="3541.5" y="872.5" width="60" height="36"/><text x="3571.5" y="895.5">0 (11.0)</text></g>
<g id="leaf-2202-11" class="l"><rect x="2164.8" y="959.4" width="74" height="36"/><text x="2201.8" y="982.4">1 (6.0/2.0)</text></g>
<g id="leaf-2298-11" class="l"><rect x="2257.5" y="959.4" width="81" height="36"/><text x="2298" y="982.4">0 (51.0/3.0)</text></g>
<g id="leaf-2807-11" class="l"><rect x="2766.4" y="959.4" width="81" height="36"/><text x="2806.9" y="982.4">1 (10.0/4.0)</text></g>
<g id="leaf-2906-11" class="l"><rect x="2865.5" y="959.4" width="81" height="36"/><text x="2906" y="982.4">0 (44.0/3.0)</text></g>
</g>
</svg>
